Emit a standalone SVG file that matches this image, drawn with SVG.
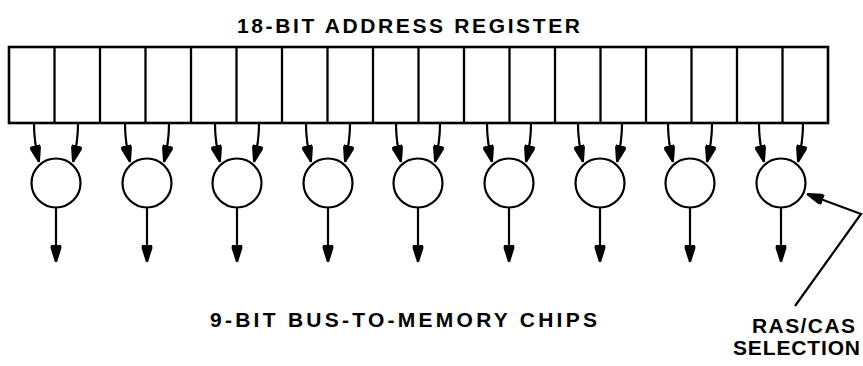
<svg xmlns="http://www.w3.org/2000/svg" width="863" height="366" viewBox="0 0 863 366">
<defs>
<style>
.reg{fill:#fff;stroke:#000;stroke-width:2.6}
.div{stroke:#000;stroke-width:2.3}
.mux{fill:#fff;stroke:#000;stroke-width:2.2}
.wire{fill:none;stroke:#000;stroke-width:2.2}
.lbl{font-family:"Liberation Sans",Arial,sans-serif;font-weight:bold;font-size:21px;fill:#000}
</style>
<marker id="ah" viewBox="0 0 18 12" refX="17" refY="6" markerWidth="18" markerHeight="12" markerUnits="userSpaceOnUse" orient="auto">
<path d="M0,1 L3,0.5 L17,5 L17,7 L3,11.5 L0,11 z" fill="#000"/>
</marker>
</defs>
<rect width="863" height="366" fill="#fff"/>
<text class="lbl" x="237" y="33" textLength="343" lengthAdjust="spacing">18-BIT ADDRESS REGISTER</text>
<g id="register">
<rect class="reg" x="9" y="47" width="819" height="76"/>
<g class="div">
<line x1="54.5" y1="47" x2="54.5" y2="123"/>
<line x1="100" y1="47" x2="100" y2="123"/>
<line x1="145.5" y1="47" x2="145.5" y2="123"/>
<line x1="191" y1="47" x2="191" y2="123"/>
<line x1="236.5" y1="47" x2="236.5" y2="123"/>
<line x1="282" y1="47" x2="282" y2="123"/>
<line x1="327.5" y1="47" x2="327.5" y2="123"/>
<line x1="373" y1="47" x2="373" y2="123"/>
<line x1="418.5" y1="47" x2="418.5" y2="123"/>
<line x1="464" y1="47" x2="464" y2="123"/>
<line x1="509.5" y1="47" x2="509.5" y2="123"/>
<line x1="555" y1="47" x2="555" y2="123"/>
<line x1="600.5" y1="47" x2="600.5" y2="123"/>
<line x1="646" y1="47" x2="646" y2="123"/>
<line x1="691.5" y1="47" x2="691.5" y2="123"/>
<line x1="737" y1="47" x2="737" y2="123"/>
<line x1="782.5" y1="47" x2="782.5" y2="123"/>
</g>
</g>
<g id="mux1"><circle class="mux" cx="56" cy="183" r="24.5"/></g>
<g id="mux2"><circle class="mux" cx="147" cy="183" r="24.5"/></g>
<g id="mux3"><circle class="mux" cx="237" cy="183" r="24.5"/></g>
<g id="mux4"><circle class="mux" cx="328" cy="183" r="24.5"/></g>
<g id="mux5"><circle class="mux" cx="418" cy="183" r="24.5"/></g>
<g id="mux6"><circle class="mux" cx="509" cy="183" r="24.5"/></g>
<g id="mux7"><circle class="mux" cx="600" cy="183" r="24.5"/></g>
<g id="mux8"><circle class="mux" cx="690" cy="183" r="24.5"/></g>
<g id="mux9"><circle class="mux" cx="781" cy="183" r="24.5"/></g>
<g id="connectors" class="wire" marker-end="url(#ah)">
<path d="M34,124 C34,140 36,150 39,162"/><path d="M78,124 C78,140 76,150 73,162"/><path d="M56,208 L56,262"/>
<path d="M125,124 C125,140 127,150 130,162"/><path d="M169,124 C169,140 167,150 164,162"/><path d="M147,208 L147,262"/>
<path d="M215,124 C215,140 217,150 220,162"/><path d="M259,124 C259,140 257,150 254,162"/><path d="M237,208 L237,262"/>
<path d="M306,124 C306,140 308,150 311,162"/><path d="M350,124 C350,140 348,150 345,162"/><path d="M328,208 L328,262"/>
<path d="M396,124 C396,140 398,150 401,162"/><path d="M440,124 C440,140 438,150 435,162"/><path d="M418,208 L418,262"/>
<path d="M487,124 C487,140 489,150 492,162"/><path d="M531,124 C531,140 529,150 526,162"/><path d="M509,208 L509,262"/>
<path d="M578,124 C578,140 580,150 583,162"/><path d="M622,124 C622,140 620,150 617,162"/><path d="M600,208 L600,262"/>
<path d="M668,124 C668,140 670,150 673,162"/><path d="M712,124 C712,140 710,150 707,162"/><path d="M690,208 L690,262"/>
<path d="M759,124 C759,140 761,150 764,162"/><path d="M803,124 C803,140 801,150 798,162"/><path d="M781,208 L781,262"/>
<path d="M795,306 L861,214 L807,194"/>
</g>
<text class="lbl" x="210" y="327" textLength="387" lengthAdjust="spacing">9-BIT BUS-TO-MEMORY CHIPS</text>
<text class="lbl" x="752" y="333" textLength="103" lengthAdjust="spacing">RAS/CAS</text>
<text class="lbl" x="733" y="355" textLength="127" lengthAdjust="spacing">SELECTION</text>
</svg>
